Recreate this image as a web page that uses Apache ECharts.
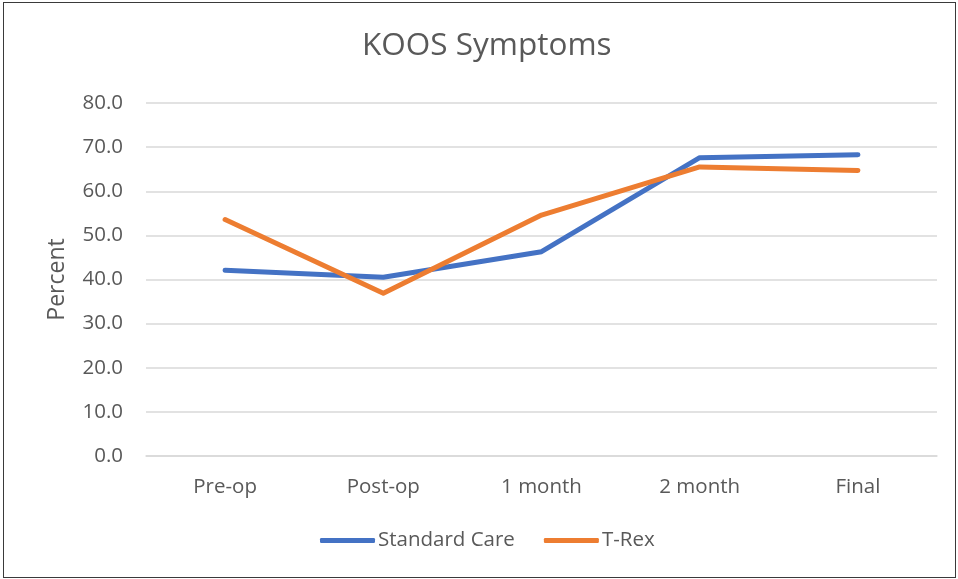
<!DOCTYPE html>
<html>
<head>
    <meta charset="utf-8">
    <title>KOOS Symptoms</title>
    <script src="https://cdn.jsdelivr.net/npm/echarts@6/dist/echarts.min.js"></script>
    <style>
        html, body { margin: 0; padding: 0; background: #fff; }
        #main { position: absolute; left: 3px; top: 2px; width: 951px; height: 574px; border: 1px solid #3a3a3a; }
    </style>
</head>
<body>
    <div id="main"></div>
    <script type="text/javascript">
        // categories / values
        var stages = ['Pre-op', 'Post-op', '1 month', '2 month', 'Final'];
        var standardCare = [42.1, 40.5, 46.3, 67.6, 68.3];
        var tRex = [53.6, 36.9, 54.6, 65.5, 64.7];

        var fontFam = '"Open Sans", "Noto Sans", sans-serif';
        var chart = echarts.init(document.getElementById('main'));
        chart.setOption({
            animation: false,
            title: {
                text: 'KOOS Symptoms',
                left: 353,
                top: 22,
                textStyle: { fontFamily: fontFam, fontSize: 31.5, fontWeight: 'normal', color: '#595959' }
            },
            legend: {
                data: ['Standard Care', 'T-Rex'],
                bottom: 21,
                left: 311,
                icon: 'roundRect',
                itemWidth: 55,
                itemHeight: 5,
                itemGap: 29,
                textStyle: { fontFamily: fontFam, fontSize: 20.5, color: '#595959', padding: [0, 0, 0, -2] }
            },
            grid: { left: 142, right: 18, top: 100, bottom: 121 },
            xAxis: {
                type: 'category',
                data: stages,
                axisLine: { show: true, lineStyle: { color: '#d9d9d9', width: 1.5 } },
                axisTick: { show: false },
                axisLabel: { fontFamily: fontFam, fontSize: 20.5, color: '#595959', margin: 21 }
            },
            yAxis: {
                type: 'value',
                min: 0,
                max: 80,
                interval: 10,
                name: 'Percent',
                nameLocation: 'middle',
                nameGap: 77,
                nameTextStyle: { fontFamily: fontFam, fontSize: 23, color: '#595959' },
                axisLine: { show: false },
                axisTick: { show: false },
                splitLine: { lineStyle: { color: '#d9d9d9', width: 1.5 } },
                axisLabel: {
                    fontFamily: fontFam, fontSize: 20.5, color: '#595959', margin: 23,
                    formatter: function (v) { return v.toFixed(1); }
                }
            },
            series: [
                {
                    name: 'Standard Care',
                    type: 'line',
                    data: standardCare,
                    showSymbol: false,
                    symbol: 'none',
                    itemStyle: { color: '#4472C4' },
                    lineStyle: { color: '#4472C4', width: 5, cap: 'round', join: 'round' }
                },
                {
                    name: 'T-Rex',
                    type: 'line',
                    data: tRex,
                    showSymbol: false,
                    symbol: 'none',
                    itemStyle: { color: '#ED7D31' },
                    lineStyle: { color: '#ED7D31', width: 5, cap: 'round', join: 'round' }
                }
            ]
        });
    </script>
</body>
</html>
